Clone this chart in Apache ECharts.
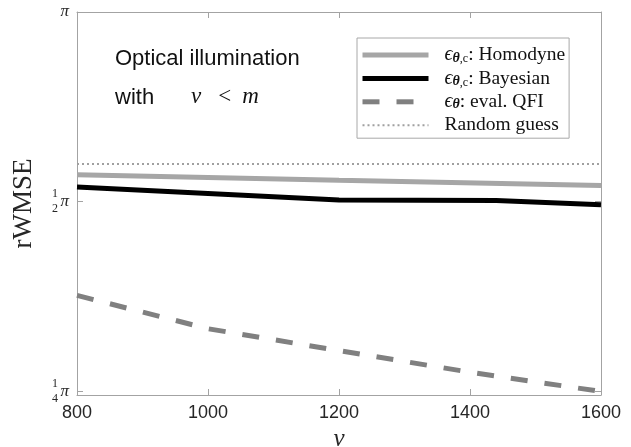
<!DOCTYPE html>
<html><head><meta charset="utf-8">
<script src="https://cdn.jsdelivr.net/npm/echarts@6/dist/echarts.min.js"></script>
<style>html,body{margin:0;padding:0;background:#fff}#c{width:631px;height:447px}</style>
</head><body><div id="c"></div>
<script>
// rWMSE values expressed in units of pi
const nuHomodyne = [800, 1200, 1600];
const homodyne = [0.5513, 0.5402, 0.5301];
const nuBayesian = [800, 1200, 1440, 1600];
const bayesian = [0.5272, 0.5027, 0.5017, 0.4941];
const nuQFI = [800, 1000, 1200, 1400, 1600];
const qfi = [0.3547, 0.3140, 0.2898, 0.2678, 0.2496];
const nuRandom = [800, 1600];
const randomGuess = [0.5737, 0.5737];
const xTicks = [800, 1000, 1200, 1400, 1600];
const yTickValues = [0.25, 0.5, 1];
const yTickPi = ['π', 'π', 'π'];
const yTickFractions = ['1\n4', '1\n2', ''];
const seriesNames = ['Homodyne', 'Bayesian', 'QFI', 'Random'];
const legendLabels = {
  Homodyne: '{e|ϵ}{s|θ}{c|,c}{t|: Homodyne}',
  Bayesian: '{e|ϵ}{s|θ}{c|,c}{t|: Bayesian}',
  QFI: '{e|ϵ}{s|θ}{t|: eval. QFI}',
  Random: '{t|Random guess}'
};

const pairs = (xs, ys) => xs.map((x, i) => [x, ys[i]]);
const yMin = 0.2464, yMax = 1;
const axisColor = '#a3a3a3';
const textColor = '#262626';
function tickIndex(v) {
  for (let i = 0; i < yTickValues.length; i++) if (Math.abs(v - yTickValues[i]) < 1e-6) return i;
  return -1;
}

const chart = echarts.init(document.getElementById('c'), null, {renderer: 'canvas'});
chart.setOption({
  animation: false,
  backgroundColor: '#fff',
  grid: {left: 77, right: 30, top: 12, bottom: 52, containLabel: false, outerBoundsMode: 'none'},
  xAxis: [{
    type: 'value', position: 'bottom', min: xTicks[0], max: xTicks[xTicks.length - 1],
    interval: xTicks[1] - xTicks[0],
    axisLine: {show: true, lineStyle: {color: axisColor, width: 1}},
    axisTick: {show: true, inside: true, length: 6, lineStyle: {color: axisColor}},
    splitLine: {show: false},
    axisLabel: {color: textColor, fontFamily: 'Liberation Sans', fontSize: 18, margin: 9,
      formatter: v => String(v)},
    name: 'ν', nameLocation: 'middle', nameGap: 30,
    nameTextStyle: {fontFamily: 'Liberation Serif', fontStyle: 'italic', fontSize: 25, color: textColor}
  }, {
    type: 'value', position: 'top', min: xTicks[0], max: xTicks[xTicks.length - 1],
    interval: xTicks[1] - xTicks[0],
    axisLine: {show: true, lineStyle: {color: axisColor, width: 1}},
    axisTick: {show: true, inside: true, length: 6, lineStyle: {color: axisColor}},
    splitLine: {show: false}, axisLabel: {show: false}
  }],
  yAxis: [{
    type: 'log', logBase: 2, position: 'left', min: yMin, max: yMax,
    axisLine: {show: true, lineStyle: {color: axisColor, width: 1}},
    axisTick: {show: true, inside: true, length: 6, lineStyle: {color: axisColor}},
    splitLine: {show: false}, minorTick: {show: false},
    axisLabel: {
      color: textColor, fontFamily: 'Liberation Serif', fontStyle: 'italic', fontSize: 17, margin: 8,
      formatter: v => { const i = tickIndex(v); return i < 0 ? '' : yTickPi[i]; }
    },
    name: 'rWMSE', nameLocation: 'middle', nameGap: 40,
    nameTextStyle: {fontFamily: 'Liberation Serif', fontSize: 27, color: textColor}
  }, {
    type: 'log', logBase: 2, position: 'left', min: yMin, max: yMax,
    axisLine: {show: false}, axisTick: {show: false}, splitLine: {show: false},
    axisLabel: {
      color: textColor, fontFamily: 'Liberation Serif', fontSize: 12, lineHeight: 15, margin: 19,
      align: 'right',
      formatter: v => { const i = tickIndex(v); return i < 0 ? '' : yTickFractions[i]; }
    }
  }, {
    type: 'log', logBase: 2, position: 'right', min: yMin, max: yMax,
    axisLine: {show: true, lineStyle: {color: axisColor, width: 1}},
    axisTick: {show: true, inside: true, length: 6, lineStyle: {color: axisColor}},
    splitLine: {show: false}, axisLabel: {show: false}
  }],
  legend: {
    orient: 'vertical', left: 357, top: 38,
    data: seriesNames,
    itemWidth: 66, itemHeight: 14, itemGap: 3.4,
    padding: [7, 4, 3, 3],
    backgroundColor: '#fff', borderColor: '#a8a8a8', borderWidth: 1, borderRadius: 0,
    itemStyle: {opacity: 0},
    lineStyle: {width: 'inherit'},
    formatter: n => legendLabels[n],
    textStyle: {
      padding: [0, 0, 0, 11],
      rich: {
        e: {fontFamily: 'Liberation Serif', fontStyle: 'italic', fontSize: 20, color: '#111', lineHeight: 20},
        s: {fontFamily: 'Liberation Serif', fontStyle: 'italic', fontWeight: 'bold', fontSize: 14, color: '#111', lineHeight: 13, verticalAlign: 'bottom'},
        c: {fontFamily: 'Liberation Serif', fontSize: 12, color: '#111', lineHeight: 12, verticalAlign: 'bottom'},
        t: {fontFamily: 'Liberation Serif', fontSize: 19.5, color: '#111', lineHeight: 20}
      }
    }
  },
  graphic: [
    {type: 'text', left: 115, top: 48, style: {text: 'Optical illumination', fontFamily: 'Liberation Sans', fontSize: 22, fill: '#111'}},
    {type: 'text', left: 115, top: 87, style: {text: 'with', fontFamily: 'Liberation Sans', fontSize: 22, fill: '#111'}},
    {type: 'text', left: 191, top: 85, style: {
      text: '{i|ν}{r|<}{m|m}',
      rich: {
        i: {fontFamily: 'Liberation Serif', fontStyle: 'italic', fontSize: 23, fill: '#111'},
        r: {fontFamily: 'Liberation Serif', fontSize: 23, fill: '#111', padding: [0, 0, 0, 17]},
        m: {fontFamily: 'Liberation Serif', fontStyle: 'italic', fontSize: 23, fill: '#111', padding: [0, 0, 0, 11]}
      }
    }}
  ],
  series: [{
    name: 'Homodyne', type: 'line', xAxisIndex: 0, yAxisIndex: 0, symbol: 'none',
    data: pairs(nuHomodyne, homodyne),
    lineStyle: {color: '#a6a6a6', width: 5}, itemStyle: {color: '#a6a6a6'}, z: 3
  }, {
    name: 'Bayesian', type: 'line', xAxisIndex: 0, yAxisIndex: 0, symbol: 'none',
    data: pairs(nuBayesian, bayesian),
    lineStyle: {color: '#000', width: 5}, itemStyle: {color: '#000'}, z: 4
  }, {
    name: 'QFI', type: 'line', xAxisIndex: 0, yAxisIndex: 0, symbol: 'none',
    data: pairs(nuQFI, qfi),
    lineStyle: {color: '#808080', width: 5, type: [17, 17]}, itemStyle: {color: '#808080'}, z: 3
  }, {
    name: 'Random', type: 'line', xAxisIndex: 0, yAxisIndex: 0, symbol: 'none',
    data: pairs(nuRandom, randomGuess),
    lineStyle: {color: '#a0a0a0', width: 2, type: [2, 3]}, itemStyle: {color: '#a0a0a0'}, z: 2
  }]
});
</script>
</body></html>
